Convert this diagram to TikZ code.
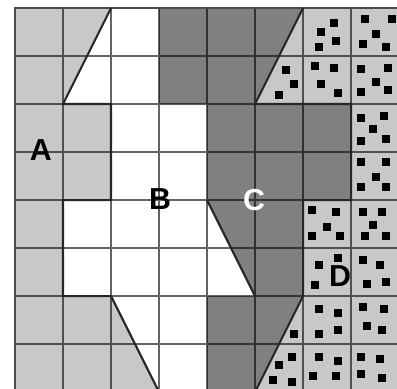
\documentclass[tikz,border=0pt]{standalone}
\usepackage{fontspec}
\setmainfont{Liberation Sans}
\definecolor{lightcell}{RGB}{200,200,200}
\definecolor{darkcell}{RGB}{128,128,128}
\tikzset{
  regionlabel/.style={font=\bfseries\fontsize{18}{18}\selectfont, inner sep=0pt},
  border/.style={line width=1.2pt, black!85},
}
\begin{document}
\begin{tikzpicture}
  \useasboundingbox (-0.3125,0.0833) rectangle (7.958,8.1667);
  % cells
  \fill[lightcell] (0,0) rectangle (8,8);
  \fill[white] (2,8) -- (3,8) -- (3,6) -- (4,6) -- (4,4) -- (5,2) -- (4,2) -- (4,0) -- (3,0) -- (2,2) -- (1,2) -- (1,4) -- (2,4) -- (2,6) -- (1,6) -- cycle;
  \fill[darkcell] (3,8) -- (6,8) -- (5,6) -- (7,6) -- (7,4) -- (6,4) -- (6,2) -- (5,0) -- (4,0) -- (4,2) -- (5,2) -- (4,4) -- (4,6) -- (3,6) -- cycle;
  % dots
  \foreach \x/\y in {6.65/7.69, 6.38/7.5, 6.69/7.31, 6.33/7.19,
      7.29/7.77, 7.85/7.77, 7.52/7.46, 7.25/7.25, 7.73/7.19,
      5.65/6.71, 5.81/6.42, 5.5/6.19,
      6.25/6.79, 6.65/6.75, 6.38/6.42, 6.73/6.23,
      7.21/6.73, 7.77/6.75, 7.52/6.46, 7.21/6.25, 7.77/6.29,
      7.21/5.71, 7.69/5.75, 7.46/5.48, 7.21/5.23, 7.73/5.27,
      7.21/4.79, 7.73/4.79, 7.52/4.48, 7.21/4.27, 7.73/4.27,
      6.19/3.79, 6.69/3.75, 6.5/3.44, 6.19/3.25, 6.77/3.25,
      7.25/3.75, 7.65/3.75, 7.46/3.48, 7.29/3.25, 7.73/3.25,
      6.73/2.79, 6.33/2.65, 6.25/2.23,
      7.25/2.75, 7.6/2.65, 7.33/2.25, 7.73/2.29,
      6.33/1.73, 6.73/1.65, 6.33/1.21, 6.73/1.29,
      7.25/1.77, 7.69/1.73, 7.33/1.38, 7.65/1.29,
      5.81/1.21,
      5.77/0.73, 5.5/0.56, 5.38/0.25, 5.77/0.21,
      6.33/0.73, 6.73/0.65, 6.21/0.33, 6.69/0.33,
      7.21/0.73, 7.6/0.69, 7.21/0.38, 7.65/0.29}
    \fill (\x,\y) +(-0.085,-0.085) rectangle +(0.085,0.085);
  % grid
  \draw[black, opacity=0.6, line width=1.1pt] (0,0) grid (8,8);
  \draw[black!70, line width=1.6pt] (0,0) -- (0,8) -- (8,8);
  % boundaries
  \draw[border] (2,8) -- (1,6) -- (2,6) -- (2,4) -- (1,4) -- (1,2) -- (2,2) -- (3,0);
  \draw[border] (6,8) -- (5,6) -- (7,6) -- (7,4) -- (6,4) -- (6,2) -- (5,0);
  \draw[border] (4,4) -- (5,2);
  % labels
  \node[regionlabel] (lblA) at (0.54,5.04) {A};
  \node[regionlabel] (lblB) at (3.02,4.02) {B};
  \node[regionlabel, white] (lblC) at (4.98,4.0) {C};
  \node[regionlabel] (lblD) at (6.77,2.42) {D};
\end{tikzpicture}
\end{document}
